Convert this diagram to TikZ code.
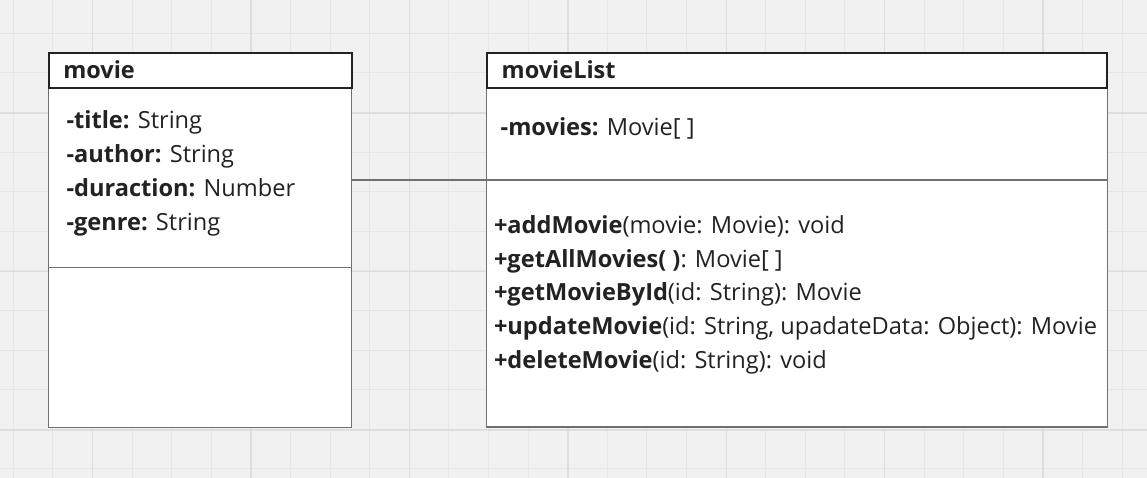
\documentclass[tikz,border=0pt]{standalone}
\usepackage{fontspec}
\setmainfont{Open Sans}
\definecolor{canvas}{HTML}{F1F1F1}
\definecolor{gridline}{HTML}{E6E6E6}
\definecolor{gridmajor}{HTML}{DEDEDE}
\definecolor{boxline}{HTML}{707070}
\definecolor{ink}{HTML}{222222}
\begin{document}
\begin{tikzpicture}[
            x = 1pt, y = -1pt,
            every node/.style = {inner sep = 0pt, outer sep = 0pt, text = ink},
            classhead/.style = {draw = ink, line width = 2pt, fill = white, anchor = north west, minimum height = 35pt},
            classpart/.style = {draw = boxline, line width = 1.3pt, fill = white, anchor = north west},
            headtext/.style = {anchor = base west, font = \fontsize{23.5}{28}\selectfont\bfseries},
            member/.style = {anchor = base west, font = \fontsize{23.6}{28}\selectfont}]
            \useasboundingbox (0,0) rectangle (1147,478);
            % grid paper
            \fill[canvas] (0,0) rectangle (1147,478);
            \foreach \gx in {0,...,28}
                \draw[gridline, line width = 1pt] ({13.3+39.6*\gx},0) -- ++(0,478);
            \foreach \gy in {0,...,11}
                \draw[gridline, line width = 1pt] (0,{33.3+39.6*\gy}) -- ++(1147,0);
            \foreach \gx in {0,...,6}
                \draw[gridmajor, line width = 1.5pt] ({92.7+158.4*\gx},0) -- ++(0,478);
            \foreach \gy in {0,...,2}
                \draw[gridmajor, line width = 1.5pt] (0,{113.2+158.4*\gy}) -- ++(1147,0);
            % class movie
            \node[classpart, minimum width = 303pt, minimum height = 179pt] (movieAttr) at (48.7,88.5) {};
            \node[classpart, minimum width = 303pt, minimum height = 160pt] (movieOps) at (48.7,267.5) {};
            \node[classhead, minimum width = 303pt] (movieHead) at (48.7,53) {};
            \node[headtext] (movieName) at (63.3,78.3) {movie};
            \node[member] (movieTitle) at (66.5,128.3) {\textbf{-title:} String};
            \node[member] (movieAuthor) at (66.5,162.2) {\textbf{-author:} String};
            \node[member] (movieDuraction) at (66.5,196.1) {\textbf{-duraction:} Number};
            \node[member] (movieGenre) at (66.5,230) {\textbf{-genre:} String};
            % class movieList
            \node[classpart, minimum width = 620.6pt, minimum height = 92pt] (listAttr) at (486.7,88) {};
            \node[classpart, minimum width = 620.6pt, minimum height = 247pt] (listOps) at (486.7,180) {};
            \node[classhead, minimum width = 620.6pt] (listHead) at (486.7,53) {};
            \node[headtext] (listName) at (501.7,79) {movieList};
            \node[member] (listMovies) at (500.7,135.7) {\textbf{-movies:} Movie[ ]};
            \node[member] (listAdd) at (494,233.3) {\textbf{+addMovie}(movie: Movie): void};
            \node[member] (listGetAll) at (494,267.1) {\textbf{+getAllMovies( )}: Movie[ ]};
            \node[member] (listGetById) at (494,300.9) {\textbf{+getMovieById}(id: String): Movie};
            \node[member] (listUpdate) at (494,334.7) {\textbf{+updateMovie}(id: String, upadateData: Object): Movie};
            \node[member] (listDelete) at (494,368.5) {\textbf{+deleteMovie}(id: String): void};
            % association
            \draw[boxline, line width = 1.3pt] (movieAttr.east |- listOps.north) -- (listOps.north west);
        \end{tikzpicture}
\end{document}
